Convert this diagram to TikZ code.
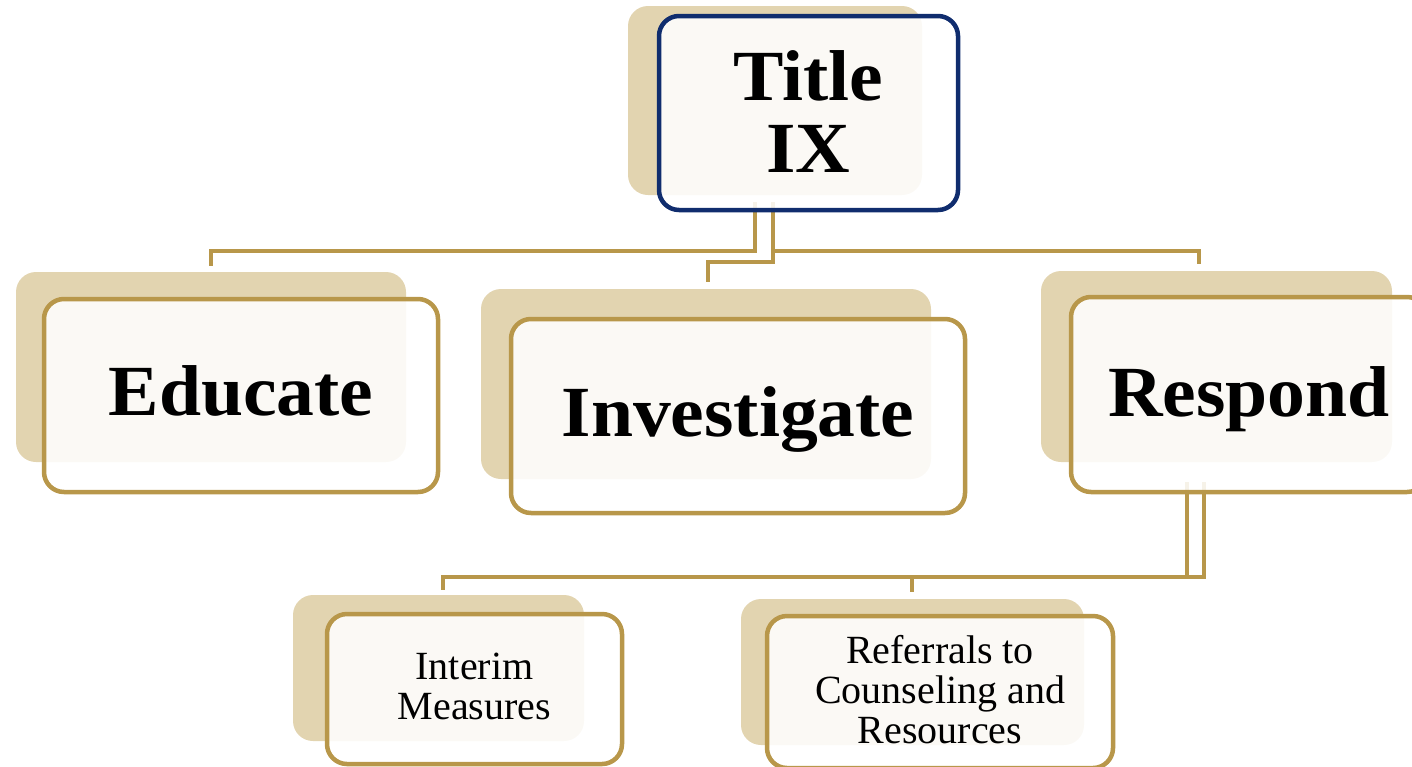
\documentclass[tikz,border=0pt]{standalone}
\usepackage{fontspec}
\setmainfont{Liberation Serif}
\newfontfamily\headfont[FakeStretch=1.05]{Liberation Serif}
\definecolor{tanbg}{RGB}{226,212,176}
\definecolor{goldln}{RGB}{184,151,74}
\definecolor{navyln}{RGB}{16,45,110}
\tikzset{
  backbox/.style={fill=tanbg, draw=none, rounded corners=20pt, inner sep=0pt, outer sep=0pt},
  frontbox/.style={fill=white, fill opacity=0.88, draw=goldln, line width=4.5pt, rounded corners=20pt, inner sep=0pt, outer sep=0pt},
  bigtxt/.style={font=\headfont\fontsize{72}{72}\selectfont\bfseries, align=center, inner sep=0pt},
  smalltxt/.style={font=\fontsize{40}{40}\selectfont, align=center, inner sep=0pt},
  conn/.style={draw=goldln, line width=4.5pt}
}
\begin{document}
\begin{tikzpicture}[x=1pt,y=-1pt]
\useasboundingbox (0,0) rectangle (1412,766);
% back rectangles
\node[backbox, minimum width=294pt, minimum height=189pt] (tb) at (775,100.5) {};
\node[backbox, minimum width=390pt, minimum height=190pt] (eb) at (211,367) {};
\node[backbox, minimum width=450pt, minimum height=190pt] (ib) at (706,384) {};
\node[backbox, minimum width=351pt, minimum height=191pt] (rb) at (1216.5,366.5) {};
\node[backbox, minimum width=291pt, minimum height=146pt] (mb) at (438.5,668) {};
\node[backbox, minimum width=343pt, minimum height=146pt] (fb) at (912.5,672) {};
% connector coordinates
\coordinate (t1) at (755,202);
\coordinate (t2) at (773,202);
\coordinate (e1) at (211,266);
\coordinate (i1) at (708,282);
\coordinate (r1) at (1199,264);
\coordinate (r2) at (1187,482);
\coordinate (r3) at (1204,482);
\coordinate (m1) at (443,590);
\coordinate (f1) at (912,592);
% connectors
\draw[conn] (t1) -- (755,251) -- (211,251) -- (e1);
\draw[conn] (t2) -- (773,262) -- (708,262) -- (i1);
\draw[conn] (t2) -- (773,251) -- (1199,251) -- (r1);
\draw[conn] (r2) -- (1187,577) -- (443,577) -- (m1);
\draw[conn] (r3) -- (1204,577) -- (912,577) -- (f1);
% front boxes
\node[frontbox, draw=navyln, minimum width=299pt, minimum height=194pt] (title) at (808.5,113) {};
\node[frontbox, minimum width=394pt, minimum height=193pt] (edu) at (241,395.5) {};
\node[frontbox, minimum width=454pt, minimum height=194pt] (inv) at (738,416) {};
\node[frontbox, minimum width=356pt, minimum height=195pt] (resp) at (1249,394.5) {};
\node[frontbox, minimum width=295pt, minimum height=150pt] (interim) at (474.5,689) {};
\node[frontbox, minimum width=346pt, minimum height=152pt] (refs) at (940,692) {};
% texts
\node[bigtxt] (titletxt) at ([yshift=1.5pt]title.center) {Title\\IX};
\node[bigtxt, anchor=base] (edutxt) at (241,415) {Educate};
\node[bigtxt, anchor=base] (invtxt) at (738,436) {Investigate};
\node[bigtxt, anchor=base] (resptxt) at (1249,416) {Respond};
\node[smalltxt] (interimtxt) at ([yshift=3pt]interim.center) {Interim\\Measures};
\node[smalltxt] (refstxt) at ([yshift=2.5pt]refs.center) {Referrals to\\Counseling and\\Resources};
\end{tikzpicture}
\end{document}
